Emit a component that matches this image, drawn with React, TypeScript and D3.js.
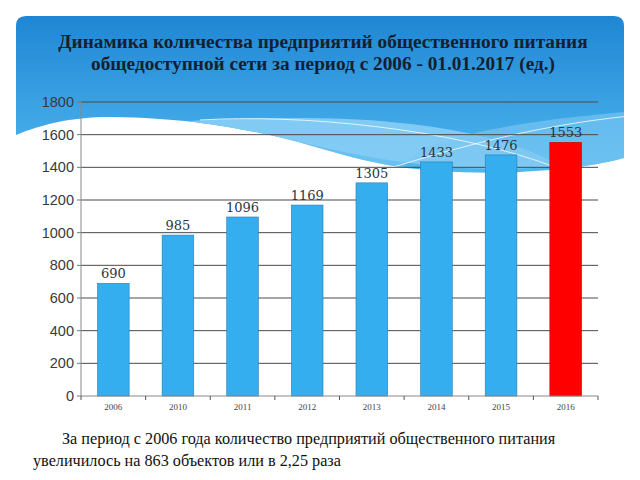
import React from "react";
import * as d3 from "d3";

const years = ["2006", "2010", "2011", "2012", "2013", "2014", "2015", "2016"];
const counts = [690, 985, 1096, 1169, 1305, 1433, 1476, 1553];
const yTicks = [0, 200, 400, 600, 800, 1000, 1200, 1400, 1600, 1800];
const titleLines = [
  "Динамика количества предприятий общественного питания",
  "общедоступной сети за период с  2006 - 01.01.2017 (ед.)",
];
const footerLines = [
  "За период с 2006 года количество предприятий общественного питания",
  "увеличилось на 863 объектов или в 2,25 раза",
];

const W = 640;
const H = 480;
const plot = { left: 81, right: 598, top: 102, bottom: 396 };

export default function App() {
  const x = d3
    .scaleBand<string>()
    .domain(years)
    .range([plot.left, plot.right])
    .paddingInner(0.51)
    .paddingOuter(0.255);
  const bandX = d3.scaleBand<string>().domain(years).range([plot.left, plot.right]);
  const y = d3.scaleLinear().domain([0, 1800]).range([plot.bottom, plot.top]);

  const headerPath =
    "M16,26 Q16,16 26,16 L614,16 Q624,16 624,26 L624,158 C600,165 560,170 520,172 C470,174 430,171 400,167 C350,160 300,140 260,133 C220,125 180,118 110,117 C70,117 40,125 16,135 Z";

  return (
    <svg
      width={W}
      height={H}
      style={{ position: "absolute", left: 0, top: 0, background: "#fff" }}
    >
      <defs>
        <linearGradient id="hdr" x1="0" y1="0" x2="0" y2="1">
          <stop offset="0" stopColor="#1f86d4" />
          <stop offset="1" stopColor="#50b7ef" />
        </linearGradient>
        <clipPath id="hclip">
          <path d={headerPath} />
        </clipPath>
      </defs>
      <path d={headerPath} fill="url(#hdr)" />
      <g clipPath="url(#hclip)">
        <path
          d="M190,121 C260,117 330,117 380,121 C450,127 520,140 560,166 L640,180 L640,100 L624,112 C560,118 480,126 420,150 L400,170 Z"
          fill="#7fc9f4"
          opacity={0.6}
        />
        <path
          d="M190,121 C260,117 330,117 380,121 C450,127 520,140 560,166 C420,180 300,140 260,133 Z"
          fill="#86ccf5"
          opacity={0.85}
        />
        <path
          d="M200,120 C300,114 450,128 552,166"
          fill="none"
          stroke="#eaf7ff"
          strokeWidth={1}
          opacity={0.9}
        />
        <path
          d="M390,168 C450,150 530,126 630,116"
          fill="none"
          stroke="#eaf7ff"
          strokeWidth={1}
          opacity={0.9}
        />
      </g>

      {titleLines.map((t, i) => (
        <text
          key={t}
          x={323}
          y={48 + i * 22}
          textAnchor="middle"
          fontFamily="'Liberation Serif', 'Times New Roman', serif"
          fontWeight="bold"
          fontSize={19.3}
          fill="#15202e"
        >
          {t}
        </text>
      ))}

      {yTicks.map((t) => (
        <g key={t}>
          {t > 0 && (
            <line
              x1={plot.left}
              x2={plot.right}
              y1={y(t)}
              y2={y(t)}
              stroke="#4a4a4a"
              strokeWidth={1}
            />
          )}
          <line x1={plot.left - 4} x2={plot.left} y1={y(t)} y2={y(t)} stroke="#777" />
          <text
            x={plot.left - 7}
            y={y(t)}
            dy="0.35em"
            textAnchor="end"
            fontFamily="'Liberation Sans', Arial, sans-serif"
            fontSize={14.5}
            fill="#3a3a3a"
          >
            {t}
          </text>
        </g>
      ))}

      <line x1={plot.left} x2={plot.left} y1={plot.top} y2={plot.bottom} stroke="#888" />

      {years.map((yr, i) => (
        <g key={yr}>
          <rect
            x={x(yr)}
            y={y(counts[i])}
            width={x.bandwidth()}
            height={y(0) - y(counts[i])}
            fill={i === years.length - 1 ? "#ff0000" : "#35aef0"}
            stroke={i === years.length - 1 ? "#c00000" : "#2a7cb0"}
            strokeWidth={0.6}
          />
          <text
            x={x(yr)! + x.bandwidth() / 2}
            y={y(counts[i]) - 5}
            textAnchor="middle"
            fontFamily="'DejaVu Serif', 'Liberation Serif', serif"
            fontSize={13}
            fill="#2a3442"
          >
            {counts[i]}
          </text>
          <text
            x={x(yr)! + x.bandwidth() / 2}
            y={410}
            textAnchor="middle"
            fontFamily="'Liberation Serif', serif"
            fontSize={9}
            fill="#444"
          >
            {yr}
          </text>
        </g>
      ))}

      <line x1={plot.left} x2={plot.right} y1={plot.bottom} y2={plot.bottom} stroke="#888" />
      {years.map((yr) => (
        <line
          key={"t" + yr}
          x1={bandX(yr)! + bandX.bandwidth()}
          x2={bandX(yr)! + bandX.bandwidth()}
          y1={plot.bottom}
          y2={plot.bottom + 4}
          stroke="#555"
        />
      ))}
      <line x1={plot.left} x2={plot.left} y1={plot.bottom} y2={plot.bottom + 4} stroke="#555" />

      <text
        x={62}
        y={444}
        fontFamily="'Liberation Serif', serif"
        fontSize={16.2}
        fill="#111"
      >
        {footerLines[0]}
      </text>
      <text
        x={33}
        y={466}
        fontFamily="'Liberation Serif', serif"
        fontSize={16.2}
        fill="#111"
      >
        {footerLines[1]}
      </text>
    </svg>
  );
}
